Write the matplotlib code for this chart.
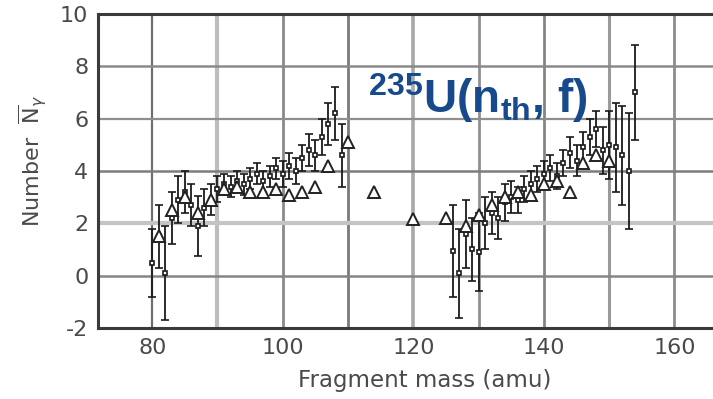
import matplotlib
matplotlib.use("Agg")
import matplotlib.pyplot as plt

# light fragments: gamma multiplicity with error bars
mass_light = [80, 81, 82, 83, 84, 85, 86, 87, 88, 89, 90, 91, 92, 93, 94,
              95, 96, 97, 98, 99, 100, 101, 102, 103, 104, 105, 106, 107, 108, 109]
ny_light = [0.5, 1.5, 0.1, 2.2, 2.9, 3.2, 2.7, 1.9, 2.6, 2.9, 3.3, 3.5, 3.4, 3.6, 3.5,
            3.7, 3.9, 3.6, 3.8, 4.1, 3.9, 4.2, 4.0, 4.5, 4.8, 4.6, 5.3, 5.8, 6.2, 4.6]
err_light = [1.3, 1.2, 1.8, 1.0, 0.9, 0.8, 0.8, 1.15, 0.7, 0.6, 0.5, 0.4, 0.4, 0.4, 0.4,
             0.4, 0.4, 0.4, 0.4, 0.4, 0.5, 0.5, 0.5, 0.5, 0.6, 0.6, 0.7, 0.8, 1.0, 1.2]

# heavy fragments
mass_heavy = [126, 127, 128, 129, 130, 131, 132, 133, 134, 135, 136, 137, 138, 139, 140,
              141, 142, 143, 144, 145, 146, 147, 148, 149, 150, 151, 152, 153, 154]
ny_heavy = [0.95, 0.1, 1.6, 1.0, 0.9, 2.0, 2.4, 2.2, 2.8, 3.0, 2.9, 3.3, 3.5, 3.7, 3.9,
            4.1, 3.8, 4.3, 4.7, 4.4, 4.9, 5.3, 5.6, 4.8, 5.0, 4.9, 4.6, 4.0, 7.0]
err_heavy = [1.75, 1.7, 1.3, 1.2, 1.5, 1.0, 0.8, 0.8, 0.7, 0.6, 0.5, 0.5, 0.5, 0.5, 0.5,
             0.5, 0.5, 0.5, 0.6, 0.6, 0.6, 0.7, 0.7, 0.9, 1.3, 1.7, 1.9, 2.2, 1.8]

# second data set (open triangles, no errors)
mass_tri = [81, 83, 85, 87, 89, 91, 93, 95, 97, 99, 101, 103, 105, 107, 110,
            114, 120, 125, 128, 130, 132, 134, 136, 138, 140, 142, 144, 146, 148, 150]
ny_tri = [1.5, 2.5, 3.0, 2.4, 2.9, 3.3, 3.4, 3.2, 3.2, 3.3, 3.1, 3.2, 3.4, 4.2, 5.1,
          3.2, 2.15, 2.2, 1.9, 2.3, 2.7, 3.0, 3.2, 3.1, 3.5, 3.6, 3.2, 4.3, 4.6, 4.4]

xticks = [80, 100, 120, 140, 160]
yticks = [-2, 0, 2, 4, 6, 8, 10]
vgrid = [80, 90, 100, 110, 120, 130, 140, 150, 160]
hgrid = [0, 2, 4, 6, 8]

plt.rcParams["mathtext.fontset"] = "custom"
plt.rcParams["mathtext.rm"] = "Liberation Sans:bold"
plt.rcParams["mathtext.it"] = "DejaVu Sans:italic"
plt.rcParams["mathtext.sf"] = "DejaVu Sans"
plt.rcParams["axes.unicode_minus"] = False

W, H = 713, 399
fig = plt.figure(figsize=(W / 100, H / 100), dpi=100)
ax = fig.add_axes([98 / W, 1 - 328 / H, (W - 98) / W, 314 / H])
ax.set_xlim(71.7, 165.9)
ax.set_ylim(-2, 10)

# scanned graph-paper grid, uneven greys
vstyle = [("#6e6e6e", 1.6), ("#bdbdbd", 3.0), ("#8a8a8a", 2.0), ("#7a7a7a", 2.0),
          ("#a8a8a8", 2.6), ("#909090", 2.0), ("#858585", 2.0), ("#9a9a9a", 2.2),
          ("#8c8c8c", 2.0)]
for x, (c, lw) in zip(vgrid, vstyle):
    ax.axvline(x, color=c, lw=lw, zorder=0)
hstyle = [("#858585", 1.8), ("#c4c4c4", 3.0), ("#7c7c7c", 1.8), ("#8e8e8e", 1.6),
          ("#8a8a8a", 1.8)]
for y, (c, lw) in zip(hgrid, hstyle):
    ax.axhline(y, color=c, lw=lw, zorder=0)

for s in ["left", "top", "bottom"]:
    ax.spines[s].set_color("#3a3a3a")
    ax.spines[s].set_linewidth(2.2)
ax.spines["right"].set_visible(False)

for m, v, e in [(mass_light, ny_light, err_light), (mass_heavy, ny_heavy, err_heavy)]:
    ax.errorbar(m, v, yerr=e, fmt="s", ms=3.5, mfc="white", mec="#1a1a1a",
                mew=1.2, ecolor="#1a1a1a", elinewidth=1.3, capsize=3,
                capthick=1.3, zorder=3)
ax.plot(mass_tri, ny_tri, "^", ms=8.5, mfc="white", mec="#222222", mew=1.4,
        ls="none", zorder=4)

ax.set_xticks(xticks)
ax.set_yticks(yticks)
ax.tick_params(length=0, labelsize=16, labelcolor="#4a4a4a", pad=7)

fig.text(33 / W, 1 - 161 / H, r"Number  $\overline{\mathsf{N}}_{\gamma}$",
         rotation=90, ha="center", va="center", fontsize=16, color="#4a4a4a")
fig.text(425 / W, 1 - 381 / H, "Fragment mass (amu)", ha="center", va="center",
         fontsize=16.5, color="#4a4a4a")
fig.text(368 / W, 1 - 113 / H, r"$^{\mathrm{235}}$U(n$_{\mathrm{th}}$, f)",
         fontsize=33, fontfamily="Liberation Sans", fontweight="bold",
         color="#174a8c", va="baseline", zorder=5)

fig.savefig("out.png", dpi=100, facecolor="white")
